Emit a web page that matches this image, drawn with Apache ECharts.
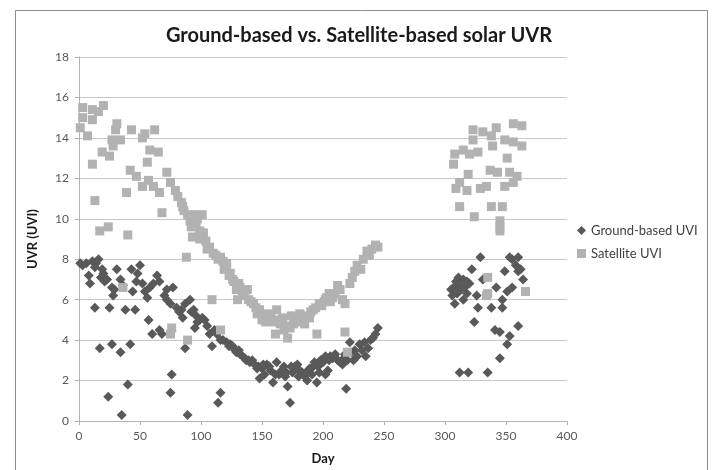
<!DOCTYPE html>
<html>
<head>
<meta charset="utf-8">
<script src="https://cdn.jsdelivr.net/npm/echarts@6/dist/echarts.min.js"></script>
<style>html,body{margin:0;padding:0;background:#fff}#c{width:712px;height:470px}</style>
</head>
<body>
<div id="c"></div>
<script>
var xTicks = [0, 50, 100, 150, 200, 250, 300, 350, 400];
var yTicks = [0, 2, 4, 6, 8, 10, 12, 14, 16, 18];

var groundDays = [1,3,6,8,9,11,13,14,16,18,19,20,21,23,13,17,24,25,27,31,27,28,29,34,34,35,36,38,40,42,46,43,44,47,48,50,52,54,56,57,58,60,61,64,66,66,68,70,72,72,75,77,76,75,80,82,84,85,87,91,92,94,96,87,89,95,97,99,101,103,105,107,109,111,114,116,113,116,118,121,124,126,128,129,132,134,136,137,140,142,144,146,148,150,152,154,157,159,162,164,166,169,171,173,175,177,179,181,183,185,187,189,191,193,195,196,198,200,202,202,204,206,208,210,212,214,216,219,222,218,225,226,228,230,232,234,235,237,239,241,243,245,
  123,131,139,147,151,156,161,168,170,174,180,186,192,197,205,209,217,220,223,
  305,306,307,308,309,310,311,312,312,313,315,315,316,318,318,319,320,322,324,326,327,329,331,335,338,341,342,345,345,347,347,349,351,351,353,353,355,355,358,360,360,360,362,364];
var groundUVI = [7.8,7.7,7.8,7.2,6.8,7.9,7.6,7.8,8.0,7.1,7.5,7.3,6.9,7.0,5.6,3.6,1.2,5.6,3.8,7.5,6.6,6.2,6.5,7.0,3.4,0.3,6.7,5.5,1.8,3.8,5.5,7.5,6.4,6.9,7.3,7.7,6.8,6.4,6.1,5.0,6.6,4.3,6.8,7.2,4.5,6.9,4.3,6.2,6.5,6.0,5.8,6.6,2.3,1.4,5.6,5.4,5.5,5.1,5.8,6.0,5.4,5.5,5.2,3.6,0.3,4.6,4.9,5.0,5.1,5.0,4.7,4.3,3.7,4.5,0.9,1.4,4.3,4.0,4.0,3.9,3.8,3.7,3.5,3.4,3.3,3.2,3.1,3.0,2.9,3.0,2.8,2.6,2.1,2.6,2.3,2.8,2.5,1.9,2.9,2.3,2.5,2.2,1.7,0.9,2.4,2.7,2.8,2.5,2.4,2.2,2.0,2.6,2.3,2.9,1.9,2.7,3.0,2.9,3.2,2.3,2.5,3.2,3.1,3.3,3.0,2.9,2.8,1.6,3.9,3.3,3.0,3.5,3.2,3.8,3.5,3.9,3.2,3.6,4.0,4.1,4.3,4.6,
  3.7,3.5,3.0,2.7,2.8,2.7,2.3,2.7,2.4,2.7,2.2,2.4,2.7,2.4,3.0,3.2,3.1,3.0,3.4,
  6.5,6.2,6.6,5.8,6.9,6.3,7.1,6.7,2.4,6.5,7.0,6.0,6.6,6.3,6.9,2.4,6.8,7.5,4.9,6.2,5.6,8.1,7.0,2.4,5.6,4.5,6.6,4.4,3.1,5.6,6.0,7.4,6.4,3.8,4.2,8.1,8.0,6.6,7.7,8.1,7.4,4.7,7.5,7.0];

var satDays = [1,3,3,7,11,11,11,13,16,20,17,24,19,25,27,30,31,28,34,36,39,40,43,42,47,52,52,54,56,57,58,62,65,61,66,68,72,75,76,75,79,81,84,85,88,89,91,93,95,96,99,99,101,102,105,109,110,116,116,121,121,124,126,129,130,132,138,139,143,148,151,157,161,162,165,170,171,174,178,181,187,192,195,197,202,203,208,214,216,218,218,220,222,224,231,233,236,243,
  86,89,92,97,104,107,112,114,118,119,123,127,131,134,136,141,145,146,150,153,155,159,163,167,168,173,176,180,183,185,189,190,194,199,201,205,206,210,212,226,228,238,240,245,
  307,308,309,312,312,315,318,319,320,323,323,324,327,329,331,334,334,335,335,337,338,338,339,342,343,345,345,345,347,349,349,351,353,356,356,356,359,363,363,366];
var satUVI = [14.5,15.5,15.0,14.1,12.7,15.4,14.9,10.9,15.3,15.6,9.4,9.6,13.3,13.1,13.9,14.4,14.7,13.6,13.9,6.6,11.3,9.2,14.4,12.4,12.1,11.6,14.0,14.2,12.8,11.9,13.4,14.4,13.3,11.6,11.3,10.3,12.3,11.8,4.6,4.3,11.4,11.1,10.8,10.6,8.1,4.0,9.9,9.1,10.2,9.7,9.4,9.0,10.2,9.3,8.5,6.0,8.3,8.1,4.5,7.8,7.6,7.3,7.0,6.5,6.0,6.6,6.5,6.0,5.8,5.5,5.2,5.2,4.3,5.5,4.8,4.7,4.1,5.2,5.0,5.3,5.2,5.5,4.3,5.8,6.0,6.1,6.1,6.5,6.0,5.8,4.4,3.4,6.8,7.1,7.5,8.0,8.4,8.7,
  10.4,10.2,9.6,10.0,8.9,8.6,8.2,8.0,7.9,7.5,7.2,6.9,6.8,6.4,6.2,5.9,5.6,5.3,5.0,4.9,5.3,4.9,5.0,5.1,4.5,4.6,4.8,4.9,5.0,4.8,5.1,5.4,5.6,5.7,5.9,6.3,5.9,6.3,6.7,7.4,7.7,8.2,8.5,8.6,
  12.7,13.2,11.5,11.8,10.6,13.4,11.4,12.2,13.2,14.4,13.9,10.1,13.3,11.5,14.3,11.6,6.2,7.1,6.3,12.4,14.1,10.6,13.6,14.5,12.3,9.9,9.6,9.4,10.6,13.9,11.6,13.0,12.3,14.7,13.8,11.8,12.1,14.6,13.6,6.4];

function pairs(xs, ys) { return xs.map(function (x, i) { return [x, ys[i]]; }); }

var chart = echarts.init(document.getElementById('c'), null, { renderer: 'canvas' });
var font = 'Lato, "Open Sans", "Liberation Sans", sans-serif';
chart.setOption({
  animation: false,
  backgroundColor: '#ffffff',
  textStyle: { fontFamily: font },
  graphic: [{
    type: 'rect', left: 13, top: 8, z: -1,
    shape: { width: 692, height: 470 },
    style: { fill: 'none', stroke: '#8c8c8c', lineWidth: 1 }
  }],
  title: {
    text: 'Ground-based vs. Satellite-based solar UVR',
    left: 354, top: 21, textAlign: 'center',
    textStyle: { fontFamily: font, fontSize: 20, fontWeight: 'bold', color: '#1a1a1a' }
  },
  legend: {
    orient: 'vertical', left: 572, top: 219, itemGap: 10,
    itemWidth: 9, itemHeight: 9,
    textStyle: { fontFamily: font, fontSize: 13, color: '#404040' },
    data: [
      { name: 'Ground-based UVI', icon: 'diamond' },
      { name: 'Satellite UVI', icon: 'rect' }
    ]
  },
  grid: { left: 79, right: 145, top: 57, bottom: 49, containLabel: false },
  xAxis: {
    type: 'value', min: xTicks[0], max: xTicks[xTicks.length - 1], interval: 50,
    name: 'Day', nameLocation: 'middle', nameGap: 31,
    nameTextStyle: { fontFamily: font, fontSize: 13, fontWeight: 'bold', color: '#1a1a1a' },
    axisLine: { show: true, lineStyle: { color: '#b3b3b3' } },
    axisTick: { show: true, length: 4, lineStyle: { color: '#b3b3b3' } },
    axisLabel: { fontFamily: font, fontSize: 12, color: '#595959', margin: 9 },
    splitLine: { show: false }
  },
  yAxis: {
    type: 'value', min: yTicks[0], max: yTicks[yTicks.length - 1], interval: 2,
    name: 'UVR (UVI)', nameLocation: 'middle', nameGap: 40, nameRotate: 90,
    nameTextStyle: { fontFamily: font, fontSize: 13, fontWeight: 'bold', color: '#1a1a1a' },
    axisLine: { show: true, lineStyle: { color: '#b3b3b3' } },
    axisTick: { show: true, length: 4, lineStyle: { color: '#b3b3b3' } },
    axisLabel: { fontFamily: font, fontSize: 12, color: '#595959', margin: 10 },
    splitLine: { show: true, lineStyle: { color: '#c8c8c8', width: 1 } }
  },
  series: [
    {
      name: 'Ground-based UVI', type: 'scatter', symbol: 'diamond', symbolSize: 10,
      itemStyle: { color: '#595959', opacity: 1 },
      data: pairs(groundDays, groundUVI)
    },
    {
      name: 'Satellite UVI', type: 'scatter', symbol: 'rect', symbolSize: 9,
      itemStyle: { color: '#b2b2b2', opacity: 1 },
      data: pairs(satDays, satUVI)
    }
  ]
});
</script>
</body>
</html>
